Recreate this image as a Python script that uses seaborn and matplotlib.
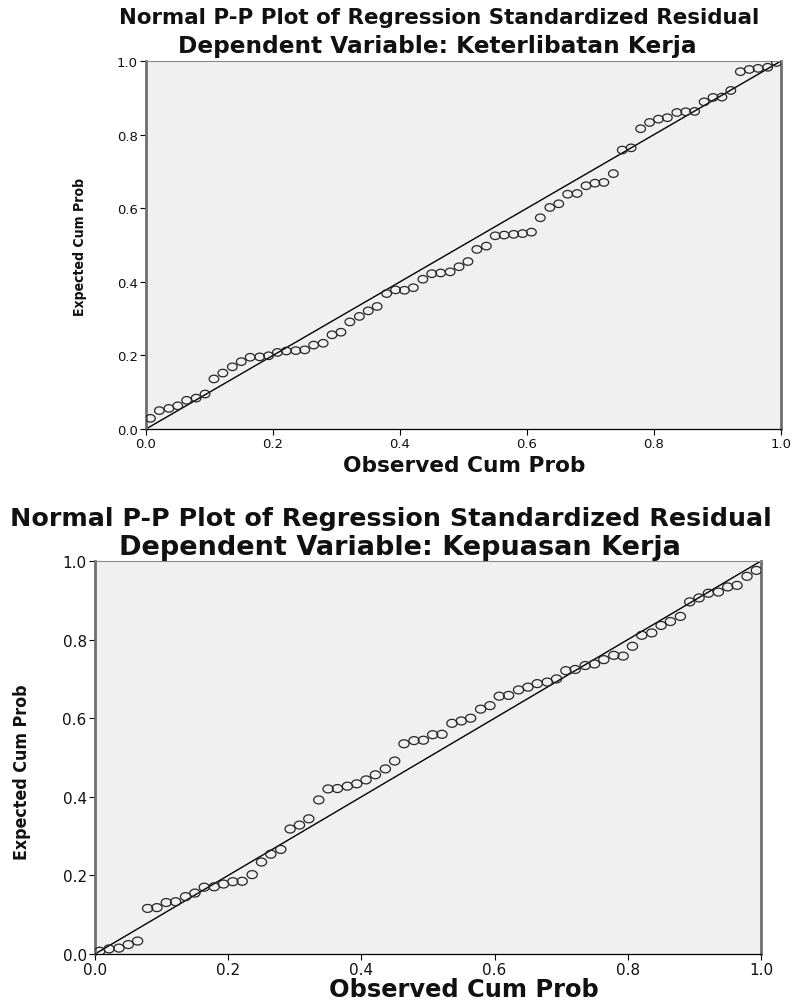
import matplotlib
matplotlib.use("Agg")
import matplotlib.pyplot as plt
from matplotlib.path import Path
from matplotlib import font_manager
import seaborn as sns
import pandas as pd
import numpy as np

# ---------------- data ----------------
observed_cum_prob = [
    0.007, 0.021, 0.036, 0.050, 0.064, 0.079, 0.093, 0.107, 0.121, 0.136,
    0.150, 0.164, 0.179, 0.193, 0.207, 0.221, 0.236, 0.250, 0.264, 0.279,
    0.293, 0.307, 0.321, 0.336, 0.350, 0.364, 0.379, 0.393, 0.407, 0.421,
    0.436, 0.450, 0.464, 0.479, 0.493, 0.507, 0.521, 0.536, 0.550, 0.564,
    0.579, 0.593, 0.607, 0.621, 0.636, 0.650, 0.664, 0.679, 0.693, 0.707,
    0.721, 0.736, 0.750, 0.764, 0.779, 0.793, 0.807, 0.821, 0.836, 0.850,
    0.864, 0.879, 0.893, 0.907, 0.921, 0.936, 0.950, 0.964, 0.979, 0.993,
]
expected_keterlibatan = [
    0.029, 0.050, 0.056, 0.063, 0.078, 0.084, 0.095, 0.136, 0.152, 0.169,
    0.183, 0.195, 0.196, 0.199, 0.208, 0.212, 0.213, 0.215, 0.228, 0.233,
    0.256, 0.263, 0.291, 0.306, 0.321, 0.333, 0.368, 0.378, 0.377, 0.384,
    0.407, 0.422, 0.424, 0.427, 0.441, 0.455, 0.488, 0.497, 0.525, 0.527,
    0.529, 0.531, 0.535, 0.574, 0.602, 0.612, 0.638, 0.640, 0.661, 0.668,
    0.670, 0.694, 0.758, 0.764, 0.816, 0.833, 0.842, 0.846, 0.860, 0.862,
    0.863, 0.889, 0.901, 0.902, 0.920, 0.971, 0.977, 0.980, 0.983, 0.996,
]
expected_kepuasan = [
    0.007, 0.013, 0.015, 0.024, 0.033, 0.116, 0.118, 0.131, 0.133, 0.146,
    0.155, 0.170, 0.171, 0.178, 0.184, 0.185, 0.202, 0.234, 0.254, 0.266,
    0.318, 0.328, 0.344, 0.392, 0.420, 0.421, 0.427, 0.433, 0.443, 0.456,
    0.471, 0.491, 0.535, 0.543, 0.544, 0.558, 0.559, 0.587, 0.593, 0.600,
    0.623, 0.632, 0.656, 0.658, 0.672, 0.679, 0.688, 0.692, 0.700, 0.721,
    0.724, 0.734, 0.738, 0.749, 0.760, 0.758, 0.783, 0.811, 0.817, 0.836,
    0.846, 0.859, 0.896, 0.906, 0.918, 0.921, 0.934, 0.938, 0.961, 0.976,
]
diagonal = [0.0, 1.0]
tick_values = [0.0, 0.2, 0.4, 0.6, 0.8, 1.0]
tick_labels = ["0.0", "0.2", "0.4", "0.6", "0.8", "1.0"]
chart_title = "Normal P-P Plot of Regression Standardized Residual"
subtitles = ["Dependent Variable: Keterlibatan Kerja",
             "Dependent Variable: Kepuasan Kerja"]
x_label = "Observed Cum Prob"
y_label = "Expected Cum Prob"

# ---------------- style ----------------
sns.set_style("white")
plt.rcParams["font.family"] = ["DejaVu Sans", "Liberation Sans"]

installed = {f.name for f in font_manager.fontManager.ttflist}
if "Liberation Sans Narrow" in installed:
    ylab_font = dict(family=["Liberation Sans Narrow", "DejaVu Sans"])
else:
    ylab_font = dict(family=["DejaVu Sans"], fontstretch="condensed")

W, H = 795, 1003
fig = plt.figure(figsize=(W / 100, H / 100), dpi=100)
renderer = fig.canvas.get_renderer()

t_ = np.linspace(0, 2 * np.pi, 40)
ellipse = Path(np.column_stack([np.cos(t_), 0.78 * np.sin(t_)]), closed=True)


def fit_text(t, target, vertical=False):
    bb = t.get_window_extent(renderer)
    cur = bb.height if vertical else bb.width
    t.set_fontsize(t.get_fontsize() * target / cur)


def px_axes(left, top, right, bottom):
    return fig.add_axes([left / W, 1 - bottom / H, (right - left) / W, (bottom - top) / H])


panels = [
    dict(box=(146, 62, 781, 430), y=expected_keterlibatan, sub=subtitles[0],
         title=(439, 18, 642), subt=(437, 47, 520), xl=(464, 466, 242),
         yl=(80, 247, 138), tick_fs=9.5, s=48),
    dict(box=(95, 562, 761, 955), y=expected_kepuasan, sub=subtitles[1],
         title=(391, 519, 763), subt=(400, 548, 565), xl=(464, 990, 270),
         yl=(22, 772, 175), tick_fs=11, s=54),
]

for p in panels:
    l, t, r, b = p["box"]
    ax = px_axes(l, t, r, b)
    ax.set_facecolor("#F0F0F0")
    df = pd.DataFrame({"obs": observed_cum_prob, "exp": p["y"]})
    sns.lineplot(x=diagonal, y=diagonal, ax=ax, color="black", linewidth=1.0,
                 zorder=2)
    sns.scatterplot(data=df, x="obs", y="exp", ax=ax, marker=ellipse, s=p["s"],
                    zorder=3)
    coll = ax.collections[-1]
    coll.set_facecolor("none")
    coll.set_edgecolor("#262626")
    coll.set_linewidth(0.9)
    ax.set_xlim(0, 1)
    ax.set_ylim(0, 1)
    ax.set_xticks(tick_values)
    ax.set_xticklabels(tick_labels)
    ax.set_yticks(tick_values)
    ax.set_yticklabels(tick_labels)
    ax.tick_params(axis="both", direction="out", length=4, width=0.8,
                   color="black", labelsize=p["tick_fs"], pad=2,
                   bottom=True, left=True, labelcolor="#111111")
    for side in ("left", "right"):
        ax.spines[side].set_color("#6f6f6f")
        ax.spines[side].set_linewidth(2.0)
    ax.spines["top"].set_color("#8a8a8a")
    ax.spines["top"].set_linewidth(0.8)
    ax.spines["bottom"].set_color("black")
    ax.spines["bottom"].set_linewidth(0.9)
    ax.set_xlabel("")
    ax.set_ylabel("")

    # titles
    cx, cy, wd = p["title"]
    tt = fig.text(cx / W, 1 - cy / H, chart_title, ha="center", va="center",
                  fontsize=14, fontweight="bold", color="#111111")
    fit_text(tt, wd)
    cx, cy, wd = p["subt"]
    st = fig.text(cx / W, 1 - cy / H, p["sub"], ha="center", va="center",
                  fontsize=14, fontweight="bold", color="#111111")
    fit_text(st, wd)

    # axis labels
    cx, cy, wd = p["xl"]
    xl = fig.text(cx / W, 1 - cy / H, x_label, ha="center", va="center",
                  fontsize=12, fontweight="bold", color="#111111")
    fit_text(xl, wd)
    cx, cy, wd = p["yl"]
    yl = fig.text(cx / W, 1 - cy / H, y_label, ha="center", va="center",
                  rotation=90, fontsize=12, fontweight="bold", color="#111111",
                  **ylab_font)
    fit_text(yl, wd, vertical=True)

fig.savefig("out.png", dpi=100, facecolor="white")
